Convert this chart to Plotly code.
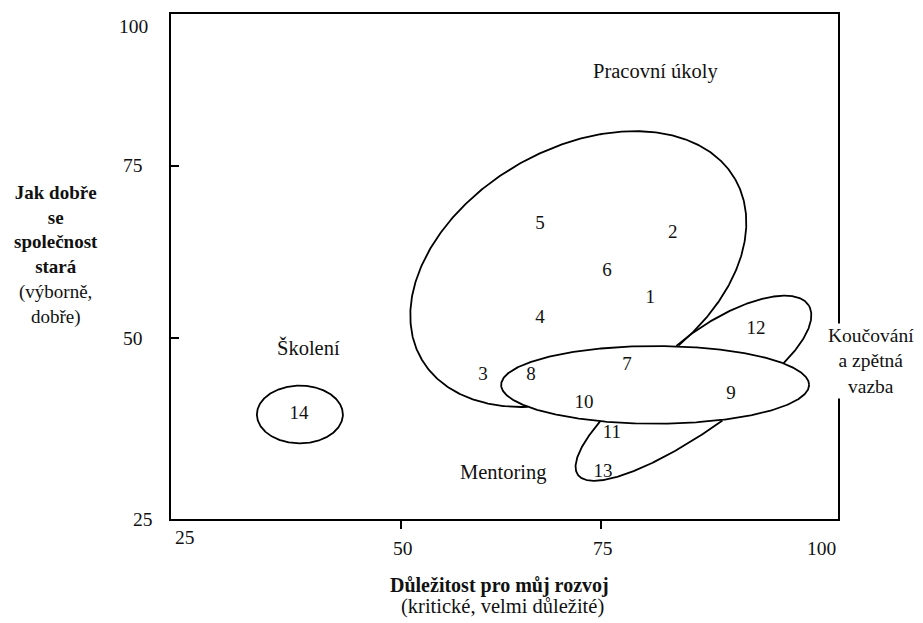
import numpy as np
import plotly.graph_objects as go

# ---------------- data ----------------
item_ids = ["1", "2", "3", "4", "5", "6", "7", "8", "9", "10", "11", "12", "13", "14"]
importance = [81.2, 84.0, 60.3, 67.4, 67.4, 75.8, 78.3, 66.3, 91.3, 72.9, 76.4, 94.4, 75.3, 37.3]
care = [55.7, 65.2, 44.6, 52.9, 66.5, 59.7, 46.0, 44.6, 41.8, 40.5, 36.2, 51.3, 30.5, 38.9]

group_names = ["Pracovní úkoly", "Školení", "Mentoring", "Koučování<br>a zpětná<br>vazba"]
group_x = [81.8, 38.5, 62.8, 108.8]
group_y = [88.6, 48.6, 30.5, 46.6]

x_tick_vals = [25, 50, 75, 100]
x_tick_text = ["25", "50", "75", "100"]
y_tick_vals = [100, 75, 50, 25]
y_tick_text = ["100", "75", "50", "25"]

x_title = ["<b>Důležitost pro můj rozvoj</b>", "(kritické, velmi důležité)"]
y_title = "<b>Jak dobře</b><br><b>se</b><br><b>společnost</b><br><b>stará</b><br>(výborně,<br>dobře)"

# ---------------- layout geometry ----------------
W, H = 915, 615            # the page adds an 8px body margin
L, R, T, B = 163, 85, 4, 104
PW, PH = W - L - R, H - T - B
X0, X1 = 21.29, 104.66     # axis extent as drawn in the original figure
Y0, Y1 = 23.74, 97.01
SX, SY = PW / (X1 - X0), PH / (Y1 - Y0)   # px per data unit

# group outlines: centre (data units), half-axes (px), tilt (deg)
outlines = {
    "work":     dict(c=(72.2, 60.0), a=181, b=121, ang=30.0),
    "coach":    dict(c=(90.5, 46.9), a=100, b=40, ang=33.0),
    "mentor":   dict(c=(87.4, 43.0), a=151, b=41, ang=36.1),
    "core":     dict(c=(81.8, 43.2), a=154, b=39, ang=0.0),
    "training": dict(c=(37.4, 38.9), a=43, b=29, ang=0.0),
}


def ellipse(o, n=600):
    t = np.linspace(0, 2 * np.pi, n)
    th = np.radians(o["ang"])
    du = o["a"] * np.cos(t) * np.cos(th) - o["b"] * np.sin(t) * np.sin(th)
    dv = o["a"] * np.cos(t) * np.sin(th) + o["b"] * np.sin(t) * np.cos(th)
    return o["c"][0] + du / SX, o["c"][1] + dv / SY


def inside(o, x, y):
    th = np.radians(o["ang"])
    u = (x - o["c"][0]) * SX
    v = (y - o["c"][1]) * SY
    uu = u * np.cos(th) + v * np.sin(th)
    vv = -u * np.sin(th) + v * np.cos(th)
    return (uu / o["a"]) ** 2 + (vv / o["b"]) ** 2 < 0.995


core = outlines["core"]
fig = go.Figure()
for name, o in outlines.items():
    x, y = ellipse(o)
    x, y = x.copy(), y.copy()
    if name in ("work", "coach", "mentor"):
        hide = inside(core, x, y)
        if name == "coach":
            hide |= y < core["c"][1]
        if name == "mentor":
            hide |= y > core["c"][1]
        x[hide] = np.nan
        y[hide] = np.nan
    fig.add_trace(go.Scatter(x=x, y=y, mode="lines", line=dict(color="black", width=1.8),
                             hoverinfo="skip", showlegend=False, connectgaps=False))

font = "Liberation Serif, Times New Roman, serif"
txt = "#111111"
fig.add_trace(go.Scatter(x=importance, y=care, mode="text", text=item_ids,
                         textfont=dict(family=font, size=19, color=txt), showlegend=False,
                         hovertemplate="%{text}: %{x}, %{y}<extra></extra>"))

for name, gx, gy in zip(group_names, group_x, group_y):
    if X0 <= gx <= X1:
        pos = dict(x=gx, xref="x", font=dict(family=font, size=20.5, color=txt))
    else:  # label placed beside the frame: paper coordinates so it is not hidden
        pos = dict(x=(gx - X0) / (X1 - X0), xref="paper", bgcolor="white", borderpad=1,
                   font=dict(family=font, size=19.5, color=txt))
    fig.add_annotation(y=gy, yref="y", text=name, showarrow=False, xanchor="center", yanchor="middle",
                       **pos)

# tick labels (first / last label sit at the corners of the frame)
n = len(x_tick_vals)
for i, (v, t) in enumerate(zip(x_tick_vals, x_tick_text)):
    if i == 0:
        kw = dict(x=0, xref="paper", xanchor="left", xshift=2, yshift=-18)
    elif i == n - 1:
        kw = dict(x=1, xref="paper", xanchor="right", xshift=0, yshift=-29)
    else:
        kw = dict(x=v, xref="x", xanchor="center", xshift=2, yshift=-29)
    fig.add_annotation(y=0, yref="paper", text=t, showarrow=False, yanchor="middle",
                       font=dict(family=font, size=19.5, color=txt), **kw)
n = len(y_tick_vals)
for i, (v, t) in enumerate(zip(y_tick_vals, y_tick_text)):
    if i == 0:
        kw = dict(y=1, yref="paper", yanchor="top", xshift=-21)
    elif i == n - 1:
        kw = dict(y=0, yref="paper", yanchor="middle", xshift=-16)
    else:
        kw = dict(y=v, yref="y", yanchor="middle", xshift=-26)
    fig.add_annotation(x=0, xref="paper", text=t, showarrow=False, xanchor="right",
                       font=dict(family=font, size=19.5, color=txt), **kw)

# axis titles
fig.add_annotation(x=0, y=0, xref="paper", yref="paper", text=x_title[0], showarrow=False,
                   xanchor="center", yanchor="middle", xshift=328, yshift=-66,
                   font=dict(family=font, size=20, color=txt))
fig.add_annotation(x=0, y=0, xref="paper", yref="paper", text=x_title[1], showarrow=False,
                   xanchor="center", yanchor="middle", xshift=331, yshift=-87,
                   font=dict(family=font, size=20.5, color=txt))
fig.add_annotation(x=0, y=0.5, xref="paper", yref="paper", text=y_title, showarrow=False,
                   xanchor="center", yanchor="middle", xshift=-115, yshift=12,
                   font=dict(family=font, size=19, color=txt))

fig.update_layout(width=W, height=H, margin=dict(l=L, r=R, t=T, b=B), paper_bgcolor="white",
                  plot_bgcolor="white",
                  xaxis=dict(range=[X0, X1], showline=True, mirror=True, linecolor="black", linewidth=2,
                             showgrid=False, zeroline=False, tickvals=x_tick_vals[1:3], ticks="outside",
                             ticklen=8, tickwidth=1.5, tickcolor="black", showticklabels=False),
                  yaxis=dict(range=[Y0, Y1], showline=True, mirror=True, linecolor="black", linewidth=2,
                             showgrid=False, zeroline=False, tickvals=y_tick_vals[1:3], ticks="inside",
                             ticklen=8, tickwidth=1.5, tickcolor="black", showticklabels=False))
fig.write_html("out.html")
